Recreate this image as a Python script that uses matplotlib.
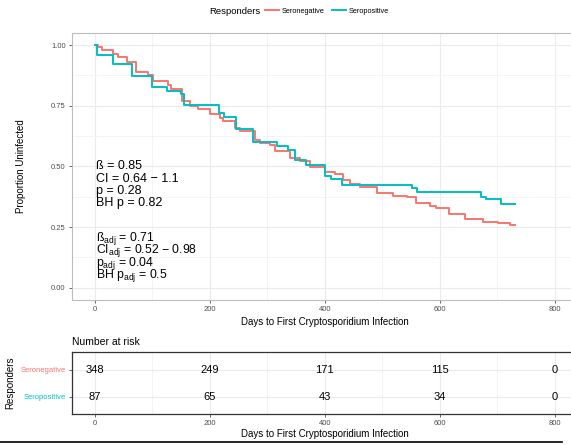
import matplotlib.pyplot as plt
from matplotlib.lines import Line2D
from matplotlib.ticker import MultipleLocator

plt.rcParams['font.family'] = ['Liberation Sans', 'DejaVu Sans']
plt.rcParams['mathtext.fontset'] = 'custom'
plt.rcParams['mathtext.rm'] = 'Liberation Sans'
plt.rcParams['mathtext.it'] = 'Liberation Sans'

# Kaplan-Meier steps (day, proportion uninfected after the step)
neg_days = [0, 5, 12, 32, 40, 55, 72, 92, 101, 127, 133, 151, 165, 180, 200, 217, 223,
            243, 252, 278, 287, 304, 313, 339, 357, 374, 400, 417, 432, 443, 461,
            490, 518, 542, 559, 583, 594, 615, 643, 675, 701, 722, 730]
neg_surv = [1.0, 0.99, 0.98, 0.965, 0.952, 0.932, 0.89, 0.877, 0.854, 0.836, 0.818, 0.768,
            0.751, 0.738, 0.717, 0.70, 0.686, 0.66, 0.645, 0.61, 0.597, 0.59, 0.563,
            0.536, 0.522, 0.499, 0.478, 0.467, 0.443, 0.426, 0.415, 0.392, 0.378,
            0.372, 0.351, 0.337, 0.33, 0.306, 0.283, 0.272, 0.265, 0.26, 0.26]
pos_days = [0, 3, 31, 64, 99, 125, 149, 155, 216, 224, 246, 275, 316, 336, 348, 367,
            400, 410, 429, 551, 561, 672, 680, 706, 730]
pos_surv = [1.0, 0.959, 0.922, 0.874, 0.827, 0.809, 0.80, 0.755, 0.721, 0.705, 0.656,
            0.600, 0.583, 0.566, 0.526, 0.504, 0.46, 0.447, 0.423, 0.413, 0.395, 0.376,
            0.365, 0.344, 0.344]

groups = ['Seronegative', 'Seropositive']
colors = ['#F8766D', '#00BFC4']
risk_days = [0, 200, 400, 600, 800]
risk_neg = [348, 249, 171, 115, 0]
risk_pos = [87, 65, 43, 34, 0]

stats_text = ['ß = 0.85', 'CI = 0.64 \u2212 1.1', 'p = 0.28', 'BH p = 0.82']
adj_text = [r'ß$_{\mathrm{adj}}$ = 0.71', r'CI$_{\mathrm{adj}}$ = 0.52 $-$ 0.98',
            r'p$_{\mathrm{adj}}$ = 0.04', r'BH p$_{\mathrm{adj}}$ = 0.5']

fig = plt.figure(figsize=(5.71, 4.45), dpi=100)
ax = fig.add_axes([0.126, 0.326, 0.886, 0.600])
rax = fig.add_axes([0.126, 0.0697, 0.886, 0.139])

grid_major = '#EBEBEB'
grid_minor = '#F3F3F3'
tick_col = '#4D4D4D'

# main survival panel
ax.step(neg_days, neg_surv, where='post', color=colors[0], lw=1.4)
ax.step(pos_days, pos_surv, where='post', color=colors[1], lw=1.4)
ax.set_xlim(-40, 840)
ax.set_ylim(-0.05, 1.05)
ax.xaxis.set_major_locator(MultipleLocator(200))
ax.xaxis.set_minor_locator(MultipleLocator(100))
ax.yaxis.set_minor_locator(MultipleLocator(0.125))
ax.set_yticks([0, 0.25, 0.5, 0.75, 1.0])
ax.set_yticklabels(['0.00', '0.25', '0.50', '0.75', '1.00'])
ax.grid(which='major', color=grid_major, lw=0.8)
ax.grid(which='minor', color=grid_minor, lw=0.6)
ax.set_axisbelow(True)
ax.tick_params(which='major', labelsize=5.5, colors=tick_col, length=2.5, width=0.6, pad=2)
ax.tick_params(which='minor', length=0)
for s in ['top', 'left', 'bottom', 'right']:
    ax.spines[s].set_color('#BDBDBD')
    ax.spines[s].set_linewidth(0.8)
ax.set_xlabel('Days to First Cryptosporidium Infection', fontsize=7, labelpad=3)
ax.set_ylabel('Proportion Uninfected', fontsize=7, labelpad=18)

for i, t in enumerate(stats_text):
    ax.text(2, 0.50 - i * 0.05, t, fontsize=9, va='center', ha='left')
for i, t in enumerate(adj_text):
    ax.text(2, 0.205 - i * 0.052, t, fontsize=8.8, va='center', ha='left')

# number at risk table
rows = [risk_neg, risk_pos]
for r, vals in enumerate(rows):
    for d, v in zip(risk_days, vals):
        rax.text(d, 1 - r, str(v), fontsize=8, ha='center', va='center')
rax.set_xlim(-40, 840)
rax.set_ylim(-0.65, 1.65)
rax.set_yticks([1, 0])
rax.set_yticklabels(groups)
rax.xaxis.set_major_locator(MultipleLocator(200))
rax.xaxis.set_minor_locator(MultipleLocator(100))
rax.grid(which='major', color=grid_major, lw=0.8)
rax.grid(which='minor', axis='x', color=grid_minor, lw=0.6)
rax.set_axisbelow(True)
rax.tick_params(which='major', labelsize=5.5, colors=tick_col, length=2.5, width=0.6, pad=2)
rax.tick_params(which='minor', length=0)
for lab, c in zip(rax.get_yticklabels(), colors):
    lab.set_color(c)
for s in ['top', 'left', 'bottom']:
    rax.spines[s].set_color('#333333')
    rax.spines[s].set_linewidth(0.9)
rax.spines['right'].set_visible(False)
rax.set_title('Number at risk', fontsize=7.5, loc='left', pad=5)
rax.set_xlabel('Days to First Cryptosporidium Infection', fontsize=7, labelpad=1)
rax.set_ylabel('Responders', fontsize=7, labelpad=4)

# legend on top
fig.text(0.366, 0.975, 'Responders', fontsize=6.8, ha='left', va='center')
handles = [Line2D([], [], color=c, lw=1.4) for c in colors]
fig.legend(handles, groups, loc='center left', bbox_to_anchor=(0.464, 0.975),
           ncol=2, frameon=False, fontsize=5.3, handlelength=1.9,
           handletextpad=0.35, columnspacing=1.1, borderaxespad=0, borderpad=0)

fig.add_artist(Line2D([0, 0.985], [0.006, 0.006], color='black', lw=1.2))

fig.savefig('out.png', dpi=100)
